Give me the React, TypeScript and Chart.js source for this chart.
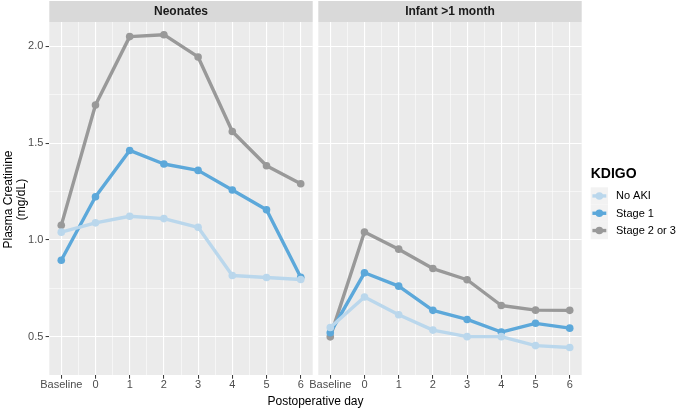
import React, { useEffect, useRef } from 'react';
import { Chart, registerables } from 'chart.js';

Chart.register(...registerables);

const FONT = "'Liberation Sans', Arial, Helvetica, sans-serif";
const W = 678;
const H = 409;

// ---- data ----
const categories = ['Baseline', '0', '1', '2', '3', '4', '5', '6'];
const panelTitles = ['Neonates', 'Infant >1 month'];
const seriesNames = ['No AKI', 'Stage 1', 'Stage 2 or 3'];
const seriesColors = ['#BAD7EC', '#5CA8DA', '#999999'];

const neonatesNoAKI = [1.04, 1.088, 1.122, 1.11, 1.065, 0.816, 0.806, 0.795];
const neonatesStage1 = [0.895, 1.223, 1.462, 1.392, 1.359, 1.258, 1.156, 0.807];
const neonatesStage23 = [1.075, 1.697, 2.05, 2.06, 1.945, 1.56, 1.383, 1.29];

const infantNoAKI = [0.547, 0.705, 0.613, 0.534, 0.5, 0.5, 0.454, 0.444];
const infantStage1 = [0.52, 0.83, 0.761, 0.636, 0.589, 0.524, 0.569, 0.544];
const infantStage23 = [0.499, 1.041, 0.952, 0.852, 0.794, 0.661, 0.637, 0.636];

const yTickLabels = ['0.5', '1.0', '1.5', '2.0'];
const yMinorTicks = [0.75, 1.25, 1.75];

const Y_MIN = 0.302;
const Y_MAX = 2.1255;
const X_MIN = -1.35;
const X_MAX = 6.35;

// ---- layout (pixels) ----
const PANEL_TOP = 22;
const PANEL_BOTTOM = 375;
const LEFT_PANEL = [49.3, 312.7];
const RIGHT_PANEL = [318.3, 581.7];

const xMajor = categories.map((_, i) => i - 1);
const xMinor = xMajor.slice(0, -1).map((v) => v + 0.5);
const xTicks = [...xMajor, ...xMinor].sort((a, b) => a - b);
const yMajor = yTickLabels.map((t) => parseFloat(t));
const yTicks = [...yMajor, ...yMinorTicks].sort((a, b) => a - b);

const isXMajor = (v: number) => xMajor.some((m) => Math.abs(m - v) < 1e-9);
const isYMajor = (v: number) => yMajor.some((m) => Math.abs(m - v) < 1e-9);

function toPoints(vals: number[]) {
  return vals.map((y, i) => ({ x: xMajor[i], y }));
}

function makeDatasets(series: number[][]) {
  return series.map((vals, i) => ({
    label: seriesNames[i],
    data: toPoints(vals),
    borderColor: seriesColors[i],
    backgroundColor: seriesColors[i],
    pointBackgroundColor: seriesColors[i],
    pointBorderWidth: 0,
    pointRadius: 3.8,
    pointHoverRadius: 3.8,
    borderWidth: 3.4,
    borderJoinStyle: 'round' as const,
    tension: 0,
  }));
}

const panelPlugin = (title: string) => ({
  id: 'panelBg',
  beforeDraw(chart: any) {
    const { ctx, chartArea } = chart;
    ctx.save();
    ctx.fillStyle = '#EBEBEB';
    ctx.fillRect(chartArea.left, chartArea.top, chartArea.right - chartArea.left, chartArea.bottom - chartArea.top);
    ctx.fillStyle = '#D9D9D9';
    ctx.fillRect(chartArea.left, 1, chartArea.right - chartArea.left, chartArea.top - 1);
    ctx.fillStyle = '#1A1A1A';
    ctx.font = `bold 12px ${FONT}`;
    ctx.textAlign = 'center';
    ctx.textBaseline = 'middle';
    ctx.fillText(title, (chartArea.left + chartArea.right) / 2, 11.8);
    ctx.restore();
  },
});

const axisTitlesPlugin = {
  id: 'axisTitles',
  afterDraw(chart: any) {
    const { ctx } = chart;
    ctx.save();
    ctx.fillStyle = '#000000';
    ctx.font = `12px ${FONT}`;
    ctx.textAlign = 'center';
    ctx.textBaseline = 'alphabetic';
    ctx.fillText('Postoperative day', (LEFT_PANEL[0] + RIGHT_PANEL[1]) / 2, 404.5);
    const cy = 199.5;
    ctx.translate(12, cy);
    ctx.rotate(-Math.PI / 2);
    ctx.fillText('Plasma Creatinine', 0, 0);
    ctx.restore();
    ctx.save();
    ctx.fillStyle = '#000000';
    ctx.font = `12px ${FONT}`;
    ctx.textAlign = 'center';
    ctx.textBaseline = 'alphabetic';
    ctx.translate(25.3, cy);
    ctx.rotate(-Math.PI / 2);
    ctx.fillText('(mg/dL)', 0, 0);
    ctx.restore();
  },
};

const legendPlugin = {
  id: 'customLegend',
  afterDraw(chart: any) {
    const { ctx } = chart;
    const x0 = 590.7;
    const keyTop = 187.3;
    const keySize = 17.3;
    ctx.save();
    ctx.fillStyle = '#000000';
    ctx.font = `bold 14px ${FONT}`;
    ctx.textAlign = 'left';
    ctx.textBaseline = 'alphabetic';
    ctx.fillText('KDIGO', x0, 178.3);
    chart.data.datasets.forEach((ds: any, i: number) => {
      const y = keyTop + i * keySize;
      ctx.fillStyle = '#F2F2F2';
      ctx.fillRect(x0, y, keySize, keySize);
      const cy = y + keySize / 2;
      ctx.strokeStyle = ds.borderColor;
      ctx.lineWidth = ds.borderWidth;
      ctx.beginPath();
      ctx.moveTo(x0 + 1.7, cy);
      ctx.lineTo(x0 + keySize - 1.7, cy);
      ctx.stroke();
      ctx.fillStyle = ds.borderColor;
      ctx.beginPath();
      ctx.arc(x0 + keySize / 2, cy, ds.pointRadius, 0, Math.PI * 2);
      ctx.fill();
      ctx.fillStyle = '#000000';
      ctx.font = `11px ${FONT}`;
      ctx.textBaseline = 'middle';
      ctx.fillText(ds.label, 616, cy + 0.3);
    });
    ctx.restore();
  },
};

function makeConfig(series: number[][], left: boolean): any {
  const panel = left ? LEFT_PANEL : RIGHT_PANEL;
  return {
    type: 'line',
    data: { datasets: makeDatasets(series) },
    options: {
      animation: false,
      responsive: false,
      maintainAspectRatio: false,
      events: [],
      layout: {
        padding: {
          left: left ? 0 : panel[0],
          right: W - panel[1],
          top: PANEL_TOP,
          bottom: 0,
        },
      },
      plugins: {
        legend: { display: false },
        tooltip: { enabled: false },
        title: { display: false },
      },
      scales: {
        x: {
          type: 'linear',
          min: X_MIN,
          max: X_MAX,
          afterBuildTicks: (s: any) => {
            s.ticks = xTicks.map((v) => ({ value: v }));
          },
          afterFit: (s: any) => {
            s.height = H - PANEL_BOTTOM;
          },
          border: { display: false },
          grid: {
            color: '#FFFFFF',
            lineWidth: (c: any) => (c.tick && isXMajor(c.tick.value) ? 1.1 : 0.55),
            tickColor: (c: any) => (c.tick && isXMajor(c.tick.value) ? '#333333' : 'rgba(0,0,0,0)'),
            tickWidth: 1,
            tickLength: 3.7,
            drawTicks: true,
          },
          ticks: {
            autoSkip: false,
            maxRotation: 0,
            minRotation: 0,
            padding: -0.5,
            color: '#4D4D4D',
            font: { size: 11, family: FONT },
            callback: (v: number) => (isXMajor(v) ? categories[Math.round(v) + 1] : ''),
          },
        },
        y: {
          type: 'linear',
          min: Y_MIN,
          max: Y_MAX,
          afterBuildTicks: (s: any) => {
            s.ticks = yTicks.map((v) => ({ value: v }));
          },
          afterFit: (s: any) => {
            s.width = left ? panel[0] : 0;
          },
          border: { display: false },
          grid: {
            color: '#FFFFFF',
            lineWidth: (c: any) => (c.tick && isYMajor(c.tick.value) ? 1.1 : 0.55),
            tickColor: (c: any) => (left && c.tick && isYMajor(c.tick.value) ? '#333333' : 'rgba(0,0,0,0)'),
            tickWidth: 1,
            tickLength: left ? 3.7 : 0,
            drawTicks: left,
          },
          ticks: {
            display: left,
            autoSkip: false,
            padding: 2.3,
            color: '#4D4D4D',
            font: { size: 11, family: FONT },
            callback: (v: number) => {
              const idx = yMajor.findIndex((m) => Math.abs(m - v) < 1e-9);
              return idx >= 0 ? yTickLabels[idx] : '';
            },
          },
        },
      },
    },
    plugins: left
      ? [panelPlugin(panelTitles[0]), axisTitlesPlugin]
      : [panelPlugin(panelTitles[1]), legendPlugin],
  };
}

export default function App() {
  const leftRef = useRef<HTMLCanvasElement | null>(null);
  const rightRef = useRef<HTMLCanvasElement | null>(null);

  useEffect(() => {
    Chart.defaults.font.family = FONT;
    const c1 = new Chart(leftRef.current as HTMLCanvasElement, makeConfig([neonatesNoAKI, neonatesStage1, neonatesStage23], true));
    const c2 = new Chart(rightRef.current as HTMLCanvasElement, makeConfig([infantNoAKI, infantStage1, infantStage23], false));
    return () => {
      c1.destroy();
      c2.destroy();
    };
  }, []);

  const canvasStyle: React.CSSProperties = { position: 'absolute', left: 0, top: 0, width: W, height: H };
  return (
    <div style={{ position: 'fixed', left: 0, top: 0, width: W, height: H, background: '#FFFFFF' }}>
      <canvas ref={leftRef} width={W} height={H} style={canvasStyle} />
      <canvas ref={rightRef} width={W} height={H} style={canvasStyle} />
    </div>
  );
}
